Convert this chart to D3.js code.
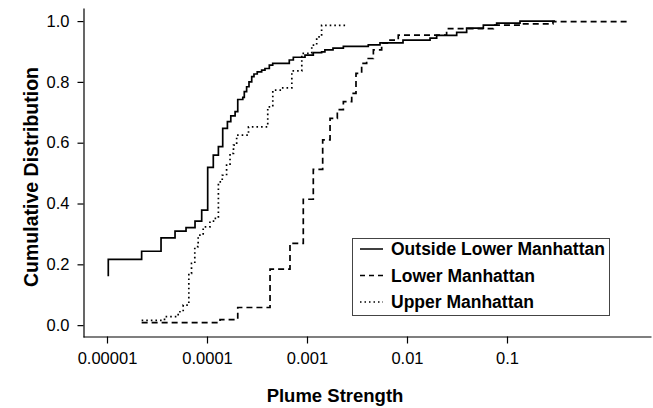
<!DOCTYPE html>
<html>
<head>
<meta charset="utf-8">
<script src="https://cdn.jsdelivr.net/npm/d3@7"></script>
<style>
body { margin: 0; background: #fff; }
text { font-family: Arial, "Liberation Sans", sans-serif; fill: #000; }
</style>
</head>
<body>
<div id="chart"></div>
<script>
// plume strength (x) and cumulative fraction (y)
var outsideX = [1.03e-5, 1.03e-5, 2.22e-5, 3.47e-5, 4.79e-5, 6.17e-5, 7.59e-5, 8.85e-5, 1.016e-4, 1.156e-4,
  1.30e-4, 1.436e-4, 1.60e-4, 1.73e-4, 1.91e-4, 2.03e-4, 2.28e-4, 2.36e-4, 2.49e-4, 2.63e-4,
  2.80e-4, 2.95e-4, 3.18e-4, 3.52e-4, 3.80e-4, 4.20e-4, 4.54e-4, 6.65e-4, 7.30e-4, 9.55e-4,
  1.156e-3, 1.40e-3, 1.51e-3, 1.82e-3, 2.31e-3, 4.10e-3, 5.37e-3, 9.12e-3, 0.0170, 0.0198,
  0.0314, 0.0395, 0.058, 0.0788, 0.135, 0.302];
var outsideY = [0.161, 0.216, 0.243, 0.287, 0.309, 0.321, 0.342, 0.378, 0.519, 0.559,
  0.587, 0.647, 0.669, 0.688, 0.702, 0.742, 0.749, 0.768, 0.784, 0.800,
  0.817, 0.826, 0.833, 0.839, 0.844, 0.855, 0.861, 0.872, 0.881, 0.888,
  0.896, 0.899, 0.905, 0.911, 0.917, 0.922, 0.928, 0.9375, 0.944, 0.953,
  0.963, 0.977, 0.987, 0.993, 1.0, 1.0];

var lowerX = [2.22e-5, 1.35e-4, 2.03e-4, 4.27e-4, 6.76e-4, 9.18e-4, 1.156e-3, 1.435e-3, 1.70e-3, 2.01e-3,
  2.31e-3, 2.80e-3, 3.09e-3, 3.52e-3, 3.95e-3, 4.61e-3, 5.58e-3, 6.76e-3, 8.18e-3, 0.0249,
  0.073, 0.135, 0.288, 1.62];
var lowerY = [0.008, 0.018, 0.058, 0.184, 0.269, 0.414, 0.512, 0.609, 0.680, 0.709,
  0.735, 0.762, 0.828, 0.861, 0.877, 0.905, 0.927, 0.9375, 0.954, 0.975,
  0.987, 0.991, 0.998, 1.0];

var upperX = [2.22e-5, 3.76e-5, 5.15e-5, 5.78e-5, 6.58e-5, 7.0e-5, 7.55e-5, 8.16e-5, 9.16e-5, 1.07e-4,
  1.19e-4, 1.30e-4, 1.42e-4, 1.57e-4, 1.70e-4, 1.84e-4, 1.98e-4, 2.60e-4, 4.05e-4, 4.55e-4,
  5.60e-4, 7.05e-4, 8.87e-4, 1.116e-3, 1.25e-3, 1.40e-3, 2.42e-3];
var upperY = [0.016, 0.028, 0.044, 0.066, 0.17, 0.203, 0.258, 0.296, 0.323, 0.342,
  0.351, 0.471, 0.493, 0.526, 0.565, 0.592, 0.625, 0.652, 0.718, 0.773,
  0.78, 0.836, 0.894, 0.921, 0.948, 0.986, 0.99];

var seriesNames = ["Outside Lower Manhattan", "Lower Manhattan", "Upper Manhattan"];
var xTicks = [0.00001, 0.0001, 0.001, 0.01, 0.1];
var xTickLabels = ["0.00001", "0.0001", "0.001", "0.01", "0.1"];
var yTicks = [0, 0.2, 0.4, 0.6, 0.8, 1.0];

var W = 653, H = 408;
var svg = d3.select("#chart").append("svg")
  .attr("width", W).attr("height", H);

var xScale = d3.scaleLog()
  .domain([Math.pow(10, -5.24), Math.pow(10, 0.44)])
  .range([83, 651]);
var yScale = d3.scaleLinear()
  .domain([-0.039, 1.043])
  .range([337, 8]);

var x_axis = d3.axisBottom(xScale)
  .tickValues(xTicks)
  .tickFormat(function (d, i) { return xTickLabels[i]; })
  .tickSize(7).tickSizeOuter(0).tickPadding(9);
var y_axis = d3.axisLeft(yScale)
  .tickValues(yTicks)
  .tickFormat(d3.format(".1f"))
  .tickSize(6).tickSizeOuter(0).tickPadding(8);

var gx = svg.append("g").attr("transform", "translate(0,336.5)").call(x_axis);
var gy = svg.append("g").attr("transform", "translate(83.5,0)").call(y_axis);
[gx, gy].forEach(function (g) {
  g.selectAll("path, line").attr("stroke", "#000").attr("stroke-width", 1.2);
  g.selectAll("text").style("font-size", "16.5px").style("font-family", "Arial, 'Liberation Sans', sans-serif");
});

svg.append("text")
  .attr("x", 335).attr("y", 402)
  .attr("text-anchor", "middle")
  .style("font-size", "18.5px").style("font-weight", "bold")
  .text("Plume Strength");
svg.append("text")
  .attr("transform", "translate(38,177) rotate(-90)")
  .attr("text-anchor", "middle")
  .style("font-size", "19.5px").style("font-weight", "bold")
  .text("Cumulative Distribution");

var line = d3.line()
  .x(function (d) { return xScale(d[0]); })
  .y(function (d) { return yScale(d[1]); })
  .curve(d3.curveStepAfter);

var dashes = [null, "6,4", "1.6,3"];
var series = [d3.zip(outsideX, outsideY), d3.zip(lowerX, lowerY), d3.zip(upperX, upperY)];
series.forEach(function (s, i) {
  svg.append("path")
    .datum(s)
    .attr("fill", "none")
    .attr("stroke", "#000")
    .attr("stroke-width", 1.7)
    .attr("stroke-dasharray", dashes[i])
    .attr("d", line);
});

// legend
var lg = svg.append("g");
lg.append("rect")
  .attr("x", 352.5).attr("y", 238.5).attr("width", 257).attr("height", 77)
  .attr("fill", "#fff").attr("stroke", "#444").attr("stroke-width", 1);
seriesNames.forEach(function (name, i) {
  var yy = 249 + i * 26.5;
  lg.append("line")
    .attr("x1", 360).attr("x2", 383).attr("y1", yy).attr("y2", yy)
    .attr("stroke", "#000").attr("stroke-width", 1.5)
    .attr("stroke-dasharray", i == 1 ? "5,4" : (i == 2 ? "1.5,3" : null));
  lg.append("text")
    .attr("x", 391).attr("y", yy + 6)
    .style("font-size", "17.5px").style("font-weight", "bold")
    .text(name);
});
</script>
</body>
</html>
